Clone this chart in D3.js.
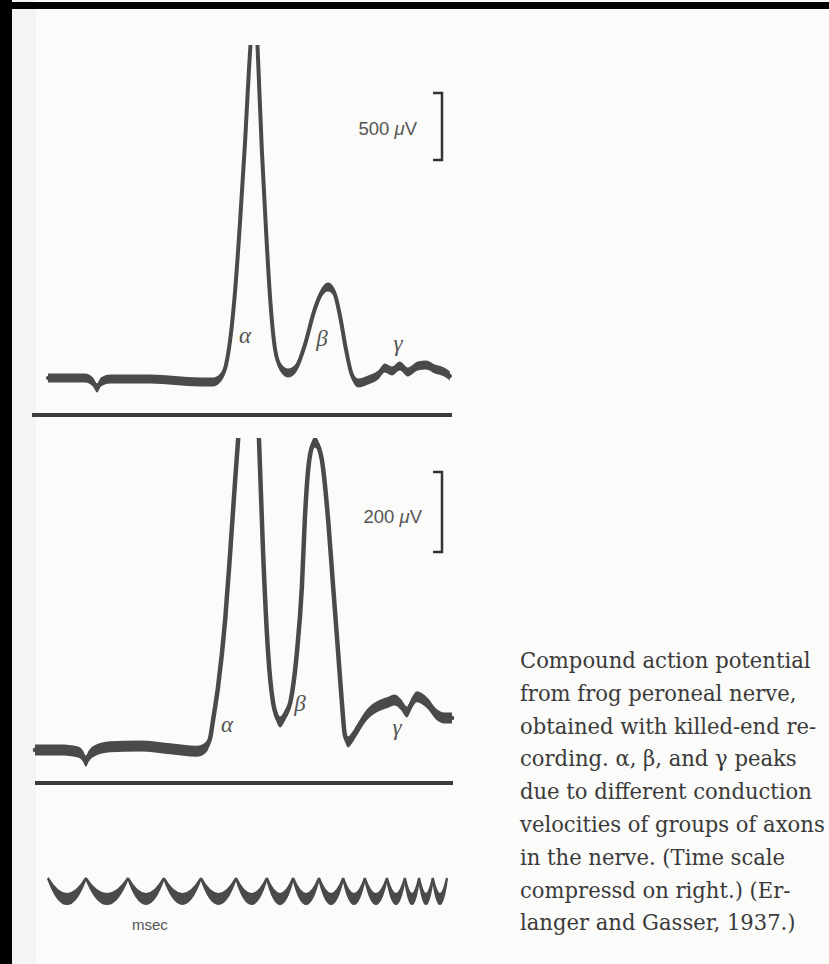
<!DOCTYPE html>
<html>
<head>
<meta charset="utf-8">
<script src="https://cdn.jsdelivr.net/npm/d3@7"></script>
<style>
  html, body { margin: 0; padding: 0; background: #fbfbf9; }
  svg { display: block; }
</style>
</head>
<body>
<svg id="chart"></svg>
<script>
// sweep time in % of the trace width, potential in µV above the baseline
const topTime = [3.1, 12.0, 13.9, 14.9, 15.8, 18.0, 27.6, 39.6, 42.7, 44.4, 45.8, 46.8, 48.0, 49.2, 50.4, 51.3, 51.67, 52.5,
    53.35, 53.6, 54.4, 55.4, 56.4, 57.6, 59.0, 60.7, 62.6, 64.7, 67.1, 68.8, 70.3, 71.7, 73.1, 74.6, 76.0, 77.5,
    79.9, 82.3, 83.9, 85.6, 87.5, 89.4, 91.8, 93.8, 95.9, 98.1, 99.5];
const topVolt = [15, 15, -15, -60, -15, 7, 7, -15, -15, 15, 112, 298, 671, 1194, 1790, 2313, 2499, 3060,
    2499, 2313, 1716, 1119, 604, 224, 90, 52, 90, 261, 530, 656, 694, 656, 485, 224, 37, -22,
    0, 37, 90, 67, 104, 60, 104, 112, 82, 60, 30];

const bottomTime = [0, 6.0, 10.3, 11.5, 12.2, 12.9, 14.1, 18.0, 25.2, 32.4, 38.8, 40.8, 42.0, 42.7, 43.9, 45.6, 46.8,
    48.0, 48.7, 50.1, 52.0, 53.0, 53.7, 54.7, 55.9, 57.1, 57.8, 58.8, 60.0, 61.2, 62.8, 64.0, 64.7, 65.5,
    66.2, 67.1, 68.1, 68.8, 70.3, 71.5, 72.7, 73.6, 74.3, 75.1, 76.0, 77.2, 79.6, 82.0, 84.4, 86.3, 87.8,
    89.2, 90.4, 91.6, 92.8, 94.0, 96.4, 98.1, 100];
const bottomVolt = [0, 0, -5, -15, -28, -15, -3, 8, 10, 3, -3, 5, 30, 75, 158, 325, 493,
    675, 775, 988, 1275, 1025, 780, 493, 243, 118, 88, 70, 88, 118, 243, 408, 575, 700,
    750, 770, 755, 725, 575, 408, 243, 118, 38, 20, 30, 50, 88, 108, 118, 125, 113,
    95, 118, 133, 128, 118, 88, 80, 80];

// msec marks of the time trace (compressed on the right)
const timeMarks = [3.1, 12.2, 22.3, 30.9, 39.8, 48.2, 55.6, 61.9, 68.1, 73.9, 79.1, 84.4, 88.7, 92.1, 95.4, 98.8];

const peakLabels = ["α", "β", "γ"];
const scaleBars = [500, 200];
const captionLines = [
    "Compound action potential",
    "from frog peroneal nerve,",
    "obtained with killed-end re-",
    "cording. α, β, and γ peaks",
    "due to different conduction",
    "velocities of groups of axons",
    "in the nerve. (Time scale",
    "compressd on right.) (Er-",
    "langer and Gasser, 1937.)"
];

const width = 829;
const height = 964;
const ink = "#4a4a4a";

const svg = d3.select("#chart").attr("width", width).attr("height", height);

// scanned page frame
svg.append("rect").attr("x", 12).attr("y", 0).attr("width", 24).attr("height", height)
    .attr("fill", "#eeedeb").attr("opacity", 0.5);
svg.append("rect").attr("x", 0).attr("y", 2).attr("width", width).attr("height", 7).attr("fill", "#000");
svg.append("rect").attr("x", 0).attr("y", 0).attr("width", 12).attr("height", height).attr("fill", "#000");

const x = d3.scaleLinear().domain([0, 100]).range([35, 452]);
const yTop = d3.scaleLinear().domain([0, 500]).range([380, 313]);
const yBottom = d3.scaleLinear().domain([0, 200]).range([750, 670]);

const defs = svg.append("defs");
defs.append("clipPath").attr("id", "clipTop")
    .append("rect").attr("x", 0).attr("y", 45).attr("width", width).attr("height", 400);
defs.append("clipPath").attr("id", "clipBottom")
    .append("rect").attr("x", 0).attr("y", 438).attr("width", width).attr("height", 360);

// _________________________
// oscilloscope traces: a vertical smear band plus a thin pen line
// _________________________
function drawTrace(times, volts, y, band, pen, clipId) {
    const data = times.map((t, i) => ({t: t, v: volts[i]}));
    const g = svg.append("g").attr("clip-path", `url(#${clipId})`);
    const area = d3.area()
        .x(d => x(d.t))
        .y0(d => y(d.v) - band / 2)
        .y1(d => y(d.v) + band / 2)
        .curve(d3.curveMonotoneX);
    const line = d3.line()
        .x(d => x(d.t))
        .y(d => y(d.v))
        .curve(d3.curveMonotoneX);
    g.append("path").attr("d", area(data)).attr("fill", ink);
    g.append("path").attr("d", line(data))
        .attr("fill", "none")
        .attr("stroke", ink)
        .attr("stroke-width", pen)
        .attr("stroke-linecap", "round");
}

drawTrace(topTime, topVolt, yTop, 9, 4, "clipTop");
drawTrace(bottomTime, bottomVolt, yBottom, 11, 4.5, "clipBottom");

// baselines under each record
svg.append("line").attr("x1", 32).attr("x2", 452).attr("y1", 415).attr("y2", 415)
    .attr("stroke", "#3c3c3c").attr("stroke-width", 4);
svg.append("line").attr("x1", 35).attr("x2", 453).attr("y1", 783).attr("y2", 783)
    .attr("stroke", "#3c3c3c").attr("stroke-width", 4);

// peak labels
const greek = [
    {g: 0, x: 245, y: 343}, {g: 1, x: 322, y: 346}, {g: 2, x: 398, y: 351},
    {g: 0, x: 227, y: 732}, {g: 1, x: 300, y: 711}, {g: 2, x: 397, y: 735}
];
svg.selectAll("text.greek")
    .data(greek)
    .enter()
    .append("text")
    .attr("class", "greek")
    .attr("x", d => d.x)
    .attr("y", d => d.y)
    .attr("text-anchor", "middle")
    .attr("font-family", "Liberation Serif, serif")
    .attr("font-style", "italic")
    .attr("font-size", 23)
    .attr("fill", "#555")
    .text(d => peakLabels[d.g]);

// _________________________
// calibration brackets
// _________________________
const bars = [
    {value: scaleBars[0], scale: yTop, top: 93, textY: 135, textX: 417},
    {value: scaleBars[1], scale: yBottom, top: 472, textY: 523, textX: 422}
];
bars.forEach(b => {
    const len = b.scale(0) - b.scale(b.value);
    svg.append("path")
        .attr("d", `M433,${b.top}H442V${b.top + len}H433`)
        .attr("fill", "none")
        .attr("stroke", "#333")
        .attr("stroke-width", 2.5);
    const t = svg.append("text")
        .attr("x", b.textX)
        .attr("y", b.textY)
        .attr("text-anchor", "end")
        .attr("font-family", "Liberation Sans, Arial, sans-serif")
        .attr("font-size", 18.5)
        .attr("fill", "#555");
    t.append("tspan").text(b.value + " ");
    t.append("tspan").attr("font-style", "italic").text("μ");
    t.append("tspan").text("V");
});

// _________________________
// time marker trace
// _________________________
const markTop = 878;
const marks = svg.append("g");
d3.pairs(timeMarks).forEach(([a, b]) => {
    const xa = x(a), xb = x(b), xm = (xa + xb) / 2;
    const p = d3.path();
    p.moveTo(xa, markTop);
    p.quadraticCurveTo(xm, markTop + 32, xb, markTop);
    p.quadraticCurveTo(xm, markTop + 52, xa, markTop);
    p.closePath();
    marks.append("path").attr("d", p.toString())
        .attr("fill", ink)
        .attr("stroke", ink)
        .attr("stroke-width", 2.2)
        .attr("stroke-linejoin", "miter");
});
svg.append("text")
    .attr("x", 132)
    .attr("y", 930)
    .attr("font-family", "Liberation Sans, Arial, sans-serif")
    .attr("font-size", 15)
    .attr("fill", "#555")
    .text("msec");

// _________________________
// caption (Schoolbook-like: DejaVu Serif squeezed to the printed measure)
// _________________________
const captionLeft = 520;
const captionWidth = 305;
const caption = svg.append("g")
    .attr("font-family", "DejaVu Serif, serif")
    .attr("font-size", 22)
    .attr("fill", "#3a3a3a");
const probe = caption.append("text").text(captionLines[5]);
const squeeze = captionWidth / probe.node().getComputedTextLength();
probe.remove();
caption.attr("transform", `translate(${captionLeft},0) scale(${squeeze},1)`);
caption.selectAll("text")
    .data(captionLines)
    .enter()
    .append("text")
    .attr("x", 0)
    .attr("y", (d, i) => 668 + i * 32.8)
    .text(d => d);
</script>
</body>
</html>
